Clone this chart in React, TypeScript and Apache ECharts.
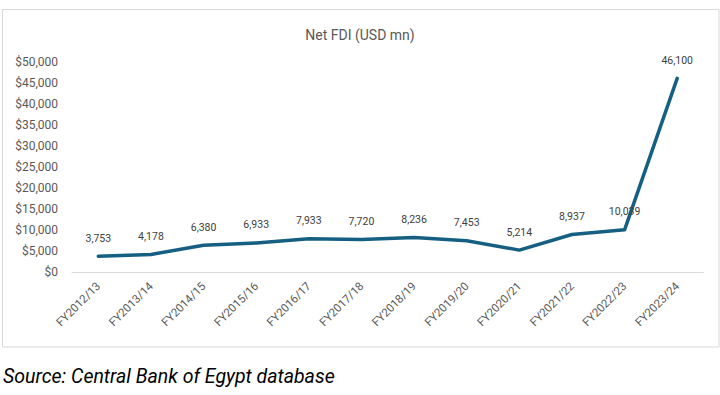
import React, { useEffect, useRef } from "react";
import * as echarts from "echarts";

const categories = [
  "FY2012/13", "FY2013/14", "FY2014/15", "FY2015/16", "FY2016/17", "FY2017/18",
  "FY2018/19", "FY2019/20", "FY2020/21", "FY2021/22", "FY2022/23", "FY2023/24",
];
const netFdi = [3753, 4178, 6380, 6933, 7933, 7720, 8236, 7453, 5214, 8937, 10039, 46100];
const titleText = "Net FDI (USD mn)";
const sourceText = "Source: Central Bank of Egypt database";
const yMin = 0;
const yMax = 50000;
const yInterval = 5000;

export default function App() {
  const ref = useRef<HTMLDivElement>(null);
  useEffect(() => {
    if (!ref.current) return;
    const chart = echarts.init(ref.current, undefined, { renderer: "svg" });
    const font = "Roboto, 'Noto Sans', sans-serif";
    chart.setOption({
      animation: false,
      backgroundColor: "#ffffff",
      textStyle: { fontFamily: font },
      title: {
        text: titleText,
        left: "center",
        top: 23,
        textStyle: { fontSize: 14, fontWeight: "normal", color: "#595959", fontFamily: font },
      },
      grid: { left: 72, right: 16.5, top: 62, bottom: 123, containLabel: false },
      xAxis: {
        type: "category",
        data: categories,
        boundaryGap: true,
        axisLine: { show: true, lineStyle: { color: "#d9d9d9", width: 1 } },
        axisTick: { show: false },
        axisLabel: { rotate: 45, margin: 12, fontSize: 11.5, color: "#595959", fontFamily: font, interval: 0 },
        splitLine: { show: false },
      },
      yAxis: {
        type: "value",
        min: yMin,
        max: yMax,
        interval: yInterval,
        axisLine: { show: false },
        axisTick: { show: false },
        splitLine: { show: false },
        axisLabel: {
          margin: 14,
          fontSize: 12,
          color: "#595959",
          fontFamily: font,
          formatter: (v: number) => "$" + v.toLocaleString("en-US"),
        },
      },
      series: [
        {
          type: "line",
          data: netFdi,
          symbol: "circle",
          symbolSize: 1,
          itemStyle: { color: "#156082" },
          lineStyle: { color: "#156082", width: 3.5, join: "round", cap: "round" },
          label: {
            show: true,
            position: "top",
            distance: 12,
            fontSize: 10.5,
            color: "#404040",
            fontFamily: font,
            formatter: (p: any) => Number(p.value).toLocaleString("en-US"),
          },
        },
      ],
      graphic: [
        {
          type: "rect",
          shape: { x: 2.5, y: 9.5, width: 716.5, height: 337.5 },
          style: { fill: "none", stroke: "#d9d9d9", lineWidth: 1 },
          silent: true,
        },
        {
          type: "text",
          left: 3,
          top: 366,
          style: {
            text: sourceText,
            fontSize: 19.5,
            fontStyle: "italic",
            fill: "#000000",
            fontFamily: "'Liberation Sans Narrow', Roboto, sans-serif",
          },
        },
      ],
    });
    return () => chart.dispose();
  }, []);
  return (
    <div
      ref={ref}
      style={{ position: "absolute", left: 0, top: 0, width: 720, height: 395 }}
    />
  );
}
